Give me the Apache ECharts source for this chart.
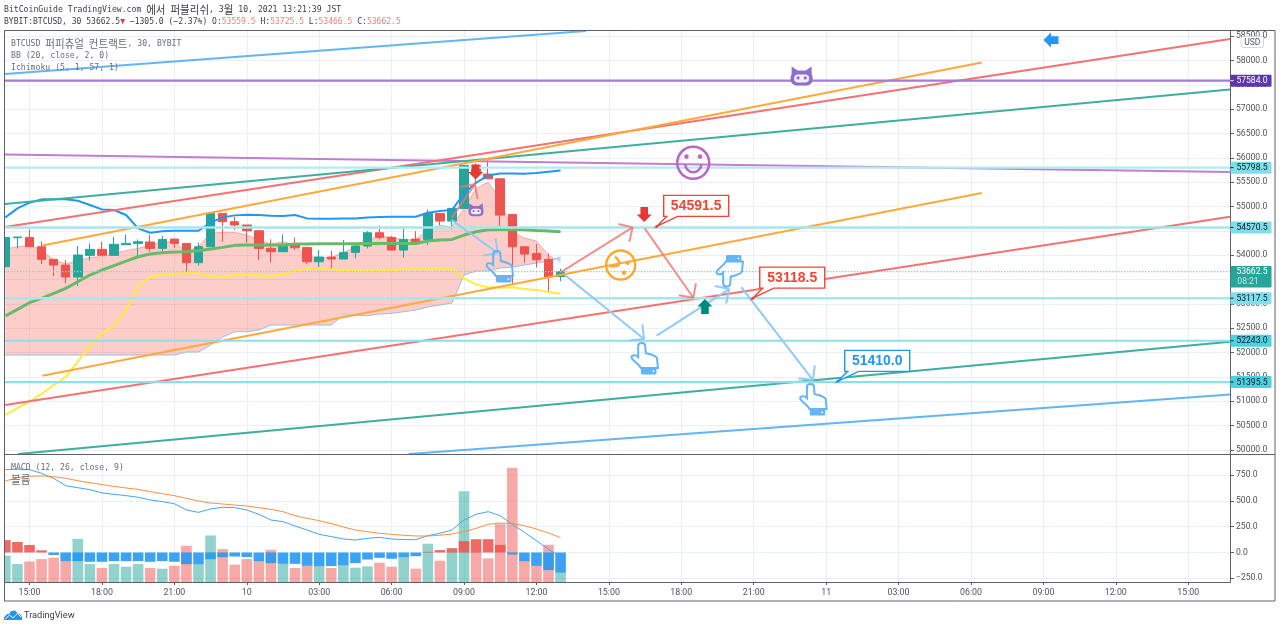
<!DOCTYPE html>
<html><head><meta charset="utf-8">
<style>html,body{margin:0;padding:0;background:#fff}#c{width:1280px;height:628px}</style>
<script src="https://cdn.jsdelivr.net/npm/echarts@6/dist/echarts.min.js"></script>
</head><body><div id="c"></div>
<script>
// ---- time axis (bar index: 0 = 14:00, one bar = 30 min)
const tickIndex = [2,8,14,20,26,32,38,44,50,56,62,68,74,80,86,92,98];
const tickLabels = ['15:00','18:00','21:00','10','03:00','06:00','09:00','12:00','15:00','18:00','21:00','11','03:00','06:00','09:00','12:00','15:00'];
// ---- candles
const opens = [53764,54360,54366,54175,53915,53798,53552,53997,54120,53997,54216,54243,54271,54140,54332,54243,53846,54175,54859,54688,54620,54503,54140,54072,54208,54160,53866,53962,53921,54058,54188,54461,54366,54105,54331,54325,54858,54701,54961,55844,55666,55570,54838,54174,54037,53914,53559.5];
const closes = [54366,54373,54175,53915,53798,53552,54004,54120,53997,54223,54243,54277,54140,54325,54243,53846,54175,54859,54688,54620,54503,54140,54072,54223,54153,53866,53962,53921,54058,54188,54461,54366,54105,54325,54277,54858,54701,54961,55844,55666,55570,54824,54174,54023,53907,53551,53662.5];
const lows = [53764,54140,54175,53819,53572,53422,53367,53887,53997,53997,54216,53983,54072,54072,54154,53661,53785,54175,54277,54517,54257,53901,53846,54072,54105,53818,53750,53715,53921,53934,54140,54325,54105,53948,54277,54208,54619,54530,54961,55475,55570,54598,53407,53845,53750,53229,53466.5];
const highs = [54366,54373,54531,54284,53915,53901,54188,54243,54277,54380,54428,54325,54414,54394,54332,54243,54257,54859,54859,54791,54620,54503,54325,54428,54366,54160,54105,54092,54311,54256,54496,54612,54393,54598,54496,54941,54858,54961,55844,55885,55954,55570,54838,54174,54229,54037,53725.5];
// ---- Bollinger bands
const bbUpper = [54777,54962,55078,55147,55147,55147,55119,55030,54941,54928,54825,54551,54462,54490,54503,54503,54503,54668,54777,54818,54832,54825,54811,54804,54824,54756,54749,54749,54756,54756,54776,54783,54790,54790,54790,54872,54906,54927,55269,55488,55639,55680,55680,55673,55687,55714,55741];
const bbBasis = [52751,52888,53025,53114,53216,53319,53456,53593,53696,53785,53880,53969,54024,54052,54065,54072,54093,54127,54161,54202,54209,54209,54209,54209,54229,54229,54235,54235,54235,54235,54242,54242,54242,54242,54242,54290,54311,54325,54414,54482,54523,54530,54530,54523,54509,54496,54482];
const bbLower = [50719,50862,50992,51150,51334,51499,51813,52135,52402,52552,52874,53367,53552,53593,53613,53634,53634,53572,53552,53593,53593,53587,53572,53613,53681,53730,53730,53710,53695,53695,53695,53695,53695,53710,53722,53722,53722,53722,53525,53402,53340,53332,53340,53305,53285,53244,53209];
// ---- Ichimoku cloud
const cloudUpper = [54127,54175,54195,54106,53901,53819,53880,53956,53969,54038,54093,54140,54209,54277,54277,54072,54175,54449,54469,54469,54414,54312,54229,54277,54208,53969,53955,53955,54051,54174,54311,54393,54366,54311,54325,54516,54612,54585,54961,55372,55502,55132,54475,54352,54290,54003,53838];
const cloudLower = [51950,51950,51950,51950,51950,51950,51950,51950,51950,51950,51950,51950,51950,51950,51950,52012,52012,52156,52320,52429,52429,52464,52566,52566,52566,52566,52566,52566,52772,52772,52757,52792,52806,52839,52874,52936,52977,53018,53593,53675,53675,53736,53757,53798,53839,53880,53962];
// ---- MACD pane
const macdLine = [803,809,803,767,719,648,628,609,577,564,551,535,509,493,473,412,389,422,438,435,412,370,315,299,257,218,176,154,131,121,137,147,131,125,125,163,186,218,315,370,396,357,273,196,115,31,-40];
const signalLine = [693,725,738,742,735,719,696,677,658,641,625,612,590,570,551,525,499,480,470,460,451,435,418,396,357,331,309,280,247,218,202,186,176,167,160,160,167,180,202,234,273,286,280,260,228,189,144];
const macdHist = [120,102,73,21,-24,-84,-84,-90,-90,-84,-84,-84,-90,-84,-90,-113,-113,-65,-45,-39,-45,-84,-103,-110,-110,-129,-132,-132,-123,-103,-68,-52,-61,-45,-36,6,23,42,110,129,129,74,-19,-84,-129,-171,-194];
const volumes = [79,54,62,69,73,64,130,54,42,54,46,54,42,40,49,109,55,140,99,52,69,64,97,55,42,49,49,42,52,43,47,58,46,76,40,115,64,90,273,90,71,174,344,64,50,112,31];
// ---- price levels
const levelPrices = [55798.5,54570.5,53117.5,52243,51395.5];
const purpleLevel = 57584;
const lastPrice = 53662.5;
const countdown = '08:21';
// ---- trend lines [bar, price, bar, price]
const blueTrendTop = [-0.03,57719,48.1,58602];
const blueTrendBottom = [33.4,49918,101.46,51139];
const purpleTrend = [-0.03,56066,101.46,55707];
const redTrendTop = [-0.03,54578,101.46,58438];
const redTrendBottom = [-0.03,50924,101.46,54790];
const tealTrendTop = [-0.03,55050,101.46,57401];
const tealTrendBottom = [1.04,49918,101.46,52223];
const orangeTrendTop = [3.06,54198,80.9,57959];
const orangeTrendBottom = [3.06,51525,80.9,55276];
// ---- arrows [from bar, from price, to bar, to price]
const redArrows = [[46.03,53654,51.97,54572],[52.97,54551,57,53127],[36.97,54763,38.9,55455]];
const blueArrows = [[36.97,54722,40.81,54044],[46.36,53593,52.91,52279],[53.96,52347,59.98,53305],[60.97,53346,66.91,51437]];
// ---- annotations [bar, price]
const handsUp = [[40.98,53757],[52.99,51868],[66.97,51026]];
const handsDown = [[60.03,53685]];
const downMarks = [[38.96,55707],[52.93,54835]];
const upMarks = [[57.96,52946]];
const leftMarks = [[86.63,58417]];
const catMarks = [[65.97,57672,1],[38.99,54927,0.68]];
const smileAt = [56.99,55898];
const faceAt = [50.98,53798];
const callouts = [[53.96,54591.5,'54591.5'],[61.92,53118.5,'53118.5'],[68.96,51410,'51410.0']];

const pairs = a => a.map((v,i)=>[i,v]);
const X_MIN=-0.03, X_MAX=101.46;
const priceTicks=[]; for(let p=50000;p<=58500;p+=500) priceTicks.push(p);
const FRAME='#5d606b', GRID='#e9f0f6', LABEL='#50535e';
const TV='Roboto', MONO="'DejaVu Sans Mono','Noto Sans CJK KR'";

function trend(a,color,w){return {type:'line',xAxisIndex:0,yAxisIndex:0,data:[[a[0],a[1]],[a[2],a[3]]],symbol:'none',silent:true,z:4,animation:false,lineStyle:{color,width:w||2}};}
function level(p,color,w){return {type:'line',xAxisIndex:0,yAxisIndex:0,data:[[X_MIN,p],[X_MAX,p]],symbol:'none',silent:true,z:4,animation:false,lineStyle:{color,width:w||2}};}
function band(v,color,w){return {type:'line',xAxisIndex:0,yAxisIndex:0,data:pairs(v),symbol:'none',silent:true,z:3,animation:false,lineStyle:{color,width:w}};}

function renderCloud(params,api){
  const up=cloudUpper.map((p,i)=>api.coord([i,p])), lo=cloudLower.map((p,i)=>api.coord([i,p]));
  const n=up.length, a=n-2, b=n-1;
  const d0=lo[a][1]-up[a][1], d1=lo[b][1]-up[b][1], t=d0/(d0-d1);
  const cross=[up[a][0]+(up[b][0]-up[a][0])*t, up[a][1]+(up[b][1]-up[a][1])*t];
  const pinkUp=up.slice(0,n-1).concat([cross]), pinkLo=lo.slice(0,n-1);
  return {type:'group',children:[
    {type:'polygon',shape:{points:pinkUp.concat(pinkLo.slice().reverse())},style:{fill:'rgba(248,60,50,0.26)',stroke:'none'}},
    {type:'polygon',shape:{points:[cross,up[b],lo[b]]},style:{fill:'#bbdefb',stroke:'none'}},
    {type:'polyline',shape:{points:pinkUp},style:{stroke:'#f7a9a3',fill:'none',lineWidth:1}},
    {type:'polyline',shape:{points:lo},style:{stroke:'#9dbde6',fill:'none',lineWidth:1}}
  ]};
}
function arrow(c,a,color){
  const p=c([a[0],a[1]]),q=c([a[2],a[3]]),ang=Math.atan2(p[1]-q[1],p[0]-q[0]),L=14.7,out=[];
  const l=(x1,y1,x2,y2)=>out.push({type:'line',shape:{x1,y1,x2,y2},style:{stroke:color,lineWidth:2,fill:'none'}});
  l(p[0],p[1],q[0],q[1]);
  [Math.PI/4,-Math.PI/4].forEach(d=>l(q[0],q[1],q[0]+L*Math.cos(ang+d),q[1]+L*Math.sin(ang+d)));
  return out;
}
const HAND='M-6.5 -13 C-6.5 -17 0.5 -17 0.5 -13 L1 -6 C5 -5 11 -4 12 -1 L13 9 L-4 9 C-5 6 -10 3 -13 -1 C-14 -4 -9 -5 -6.5 -2 Z';
function hand(c,a,flip){
  const p=c(a),col='#64b5f6';
  return {type:'group',x:p[0],y:p[1],scaleY:flip?-1:1,children:[
    {type:'path',shape:{pathData:HAND,x:-13.5,y:-16,width:26.5,height:25,layout:'cover'},style:{fill:'none',stroke:col,lineWidth:2}},
    {type:'rect',shape:{x:-4,y:9,width:15.5,height:6.5,r:1.5},style:{fill:col,stroke:'none'}},
    {type:'circle',shape:{cx:8.5,cy:12.2,r:0.9},style:{fill:'#fff',stroke:'none'}}
  ]};
}
function block(c,a,color,rot){
  const p=c(a);
  return {type:'polygon',x:p[0],y:p[1],rotation:rot,shape:{points:[[-3.8,-7.5],[3.8,-7.5],[3.8,0],[7.5,0],[0,7.5],[-7.5,0],[-3.8,0]]},style:{fill:color,stroke:'none'}};
}
function cat(c,a){
  const p=c(a),s=a[2],col='#8e6fc9',mk=(x,y)=>[x,y];
  return {type:'group',x:p[0],y:p[1],scaleX:s,scaleY:s,children:[
    {type:'polygon',shape:{points:[mk(-10,-2),mk(-10,-10),mk(-4,-6),mk(4,-6),mk(10,-10),mk(10,-2)]},style:{fill:col,stroke:'none'}},
    {type:'rect',shape:{x:-11,y:-5,width:22,height:14,r:6},style:{fill:col,stroke:'none'}},
    {type:'rect',shape:{x:-7.5,y:-2,width:15,height:8,r:4},style:{fill:'#f3edfb',stroke:'none'}},
    {type:'circle',shape:{cx:-3.6,cy:1.5,r:1.6},style:{fill:col,stroke:'none'}},
    {type:'circle',shape:{cx:3.6,cy:1.5,r:1.6},style:{fill:col,stroke:'none'}}
  ]};
}
function smiley(c){
  const p=c(smileAt),col='#ba68c8';
  return {type:'group',x:p[0],y:p[1],children:[
    {type:'circle',shape:{cx:0,cy:0,r:16},style:{fill:'none',stroke:col,lineWidth:2.6}},
    {type:'circle',shape:{cx:-6.8,cy:-6.2,r:2.3},style:{fill:col,stroke:'none'}},
    {type:'circle',shape:{cx:6.8,cy:-6.2,r:2.3},style:{fill:col,stroke:'none'}},
    {type:'arc',shape:{cx:0,cy:1.5,r:8,startAngle:0,endAngle:Math.PI,clockwise:true},style:{fill:'none',stroke:col,lineWidth:2.6}}
  ]};
}
function face(c){
  const p=c(faceAt),col='#ffa726';
  return {type:'group',x:p[0],y:p[1],children:[
    {type:'circle',shape:{cx:0,cy:0,r:14.5},style:{fill:'none',stroke:col,lineWidth:2.4}},
    {type:'circle',shape:{cx:7,cy:-2.3,r:2.2},style:{fill:col,stroke:'none'}},
    {type:'circle',shape:{cx:3.3,cy:7.7,r:2.2},style:{fill:col,stroke:'none'}},
    {type:'bezierCurve',shape:{x1:-5.7,y1:-8.3,cpx1:0,cpy1:-4,cpx2:1,cpy2:3,x2:-10.7,y2:1},style:{fill:'none',stroke:col,lineWidth:2.2}}
  ]};
}
function callout(c,a,color){
  const p=c([a[0],a[1]]),x=p[0]+7,y=p[1]-31,w=65,h=21;
  return {type:'group',children:[
    {type:'polygon',shape:{points:[[x,y],[x+w,y],[x+w,y+h],[x+14,y+h],[p[0],p[1]],[x+3,y+h],[x,y+h]]},style:{fill:'#fff',stroke:color,lineWidth:1.4}},
    {type:'circle',shape:{cx:p[0],cy:p[1],r:1.5},style:{fill:color,stroke:'none'}},
    {type:'text',style:{text:a[2],x:x+w/2,y:y+h/2+0.5,fill:color,font:'bold 14px "Liberation Sans"',align:'center',verticalAlign:'middle'}}
  ]};
}
function renderDrawings(params,api){
  const c=v=>api.coord(v),kids=[];
  redArrows.forEach(a=>kids.push(...arrow(c,a,'rgba(240,115,115,0.8)')));
  blueArrows.forEach(a=>kids.push(...arrow(c,a,'#90caf9')));
  handsUp.forEach(a=>kids.push(hand(c,a,false)));
  handsDown.forEach(a=>kids.push(hand(c,a,true)));
  downMarks.forEach(a=>kids.push(block(c,a,'#e53935',0)));
  upMarks.forEach(a=>kids.push(block(c,a,'#00897b',Math.PI)));
  leftMarks.forEach(a=>kids.push(block(c,a,'#2196f3',-Math.PI/2)));
  catMarks.forEach(a=>kids.push(cat(c,a)));
  kids.push(smiley(c),face(c));
  callouts.forEach((a,i)=>kids.push(callout(c,a,i<2?'#f44336':'#2196f3')));
  return {type:'group',children:kids};
}
function renderTags(params,api){
  const kids=[],X0=1230.5,W=41;
  const tag=(price,bg,fg)=>{
    const y=api.coord([X_MAX,price])[1];
    kids.push({type:'rect',shape:{x:X0,y:y-6,width:W,height:12,r:1},style:{fill:bg,stroke:'none'}});
    kids.push({type:'line',shape:{x1:X0,y1:y,x2:X0+3,y2:y},style:{stroke:fg,lineWidth:1}});
    kids.push({type:'text',style:{text:price.toFixed(1),x:X0+W/2+1,y:y+0.5,fill:fg,font:'8.6px '+TV,align:'center',verticalAlign:'middle'}});
  };
  tag(purpleLevel,'#5e35b1','#ffffff');
  tag(levelPrices[0],'#80deea','#131722');
  tag(levelPrices[1],'#80deea','#131722');
  tag(levelPrices[2],'#80deea','#131722');
  tag(levelPrices[3],'#4dd0e1','#131722');
  tag(levelPrices[4],'#4dd0e1','#131722');
  const y=api.coord([X_MAX,lastPrice])[1];
  kids.push({type:'rect',shape:{x:X0,y:y-5.6,width:W,height:21.4,r:1},style:{fill:'#26a69a',stroke:'none'}});
  kids.push({type:'text',style:{text:lastPrice.toFixed(1),x:X0+W/2+1,y:y+0.5,fill:'#fff',font:'8.6px '+TV,align:'center',verticalAlign:'middle'}});
  kids.push({type:'text',style:{text:countdown,x:X0+W/2-3,y:y+10.5,fill:'#bfe6e2',font:'8.6px '+TV,align:'center',verticalAlign:'middle'}});
  return {type:'group',children:kids};
}
const KO=/([\uac00-\ud7a3]+)/;
const richify=s=>s.split(KO).filter(Boolean).map(t=>KO.test(t)?'{k|'+t+'}':'{n|'+t+'}').join('');
const txt=(text,x,y,fill)=>({type:'text',x,y,scaleX:0.905,z:50,silent:true,style:{text:richify(text),verticalAlign:'middle',rich:{
  n:{fill,fontFamily:'DejaVu Sans Mono',fontSize:9},k:{fill,fontFamily:'Noto Sans CJK KR',fontSize:11.6}}}});
const monoStyle=fill=>({fill,fontFamily:'DejaVu Sans Mono',fontSize:9});
const line2={type:'text',x:4,y:22,scaleX:0.893,z:50,silent:true,style:{
  text:'{n|BYBIT:BTCUSD, 30 53662.5}{a|▼}{n| −1305.0 (−2.37%) O:}{r|53559.5}{n| H:}{r|53725.5}{n| L:}{r|53466.5}{n| C:}{r|53662.5}',
  verticalAlign:'middle',rich:{n:monoStyle('#3a3d46'),r:monoStyle('#f77c7c'),a:monoStyle('#f23645')}}};

const option={
  animation:false,backgroundColor:'#ffffff',
  grid:[{left:5,top:31,width:1225,height:423,containLabel:false},{left:5,top:455,width:1225,height:127,containLabel:false}],
  xAxis:[
    {type:'value',gridIndex:0,min:X_MIN,max:X_MAX,axisLabel:{show:false,customValues:tickIndex},axisTick:{show:false,customValues:tickIndex},axisLine:{show:false},splitLine:{show:true,lineStyle:{color:GRID,width:1}}},
    {type:'value',gridIndex:1,min:X_MIN,max:X_MAX,axisLine:{show:true,onZero:false,lineStyle:{color:FRAME}},axisTick:{show:true,length:3,customValues:tickIndex,lineStyle:{color:FRAME}},
     axisLabel:{show:true,customValues:tickIndex,color:LABEL,fontFamily:TV,fontSize:8.8,margin:6,formatter:v=>tickLabels[tickIndex.indexOf(Math.round(v))]||''},splitLine:{show:true,lineStyle:{color:GRID,width:1}}}
  ],
  yAxis:[
    {type:'value',gridIndex:0,position:'right',min:49918,max:58604,axisLine:{show:true,onZero:false,lineStyle:{color:FRAME}},axisTick:{show:true,length:4,customValues:priceTicks,lineStyle:{color:FRAME}},
     axisLabel:{show:true,customValues:priceTicks,color:LABEL,fontFamily:TV,fontSize:8.6,margin:6,formatter:v=>v.toFixed(1)},splitLine:{show:true,lineStyle:{color:GRID,width:1}}},
    {type:'value',gridIndex:1,position:'right',min:-286,max:945,axisLine:{show:true,onZero:false,lineStyle:{color:FRAME}},axisTick:{show:true,length:4,customValues:[-250,0,250,500,750],lineStyle:{color:FRAME}},
     axisLabel:{show:true,customValues:[-250,0,250,500,750],color:LABEL,fontFamily:TV,fontSize:8.6,margin:6,formatter:v=>(v<0?'−'+Math.abs(v):String(v))+'.0'},splitLine:{show:true,lineStyle:{color:GRID,width:1}}},
    {type:'value',gridIndex:1,min:0,max:382,show:false,splitLine:{show:false}}
  ],
  series:[
    {type:'custom',xAxisIndex:0,yAxisIndex:0,coordinateSystem:'cartesian2d',renderItem:renderCloud,data:[[0,52000]],encode:{x:0,y:1},z:1,silent:true,clip:true},
    {type:'candlestick',xAxisIndex:0,yAxisIndex:0,barWidth:9,z:2,silent:true,
      encode:{x:0,y:[1,2,3,4]},data:opens.map((o,i)=>[i,o,closes[i],lows[i],highs[i]]),
      itemStyle:{color:'#26a69a',color0:'#ef5350',borderColor:'#26a69a',borderColor0:'#ef5350',borderWidth:1}},
    band(bbUpper,'#2196f3',2),band(bbBasis,'#66bb6a',3),band(bbLower,'#ffeb3b',2),
    {type:'line',xAxisIndex:0,yAxisIndex:0,data:[[X_MIN,lastPrice],[X_MAX,lastPrice]],symbol:'none',silent:true,z:3,lineStyle:{color:'#8fcfc8',width:1.4,type:[1.4,1.6]}},
    trend(blueTrendTop,'#64b5f6'),trend(blueTrendBottom,'#64b5f6'),trend(purpleTrend,'#c27ed2'),
    trend(redTrendTop,'#f57272'),trend(redTrendBottom,'#f57272'),trend(tealTrendTop,'#3fae9f'),trend(tealTrendBottom,'#3fae9f'),
    trend(orangeTrendTop,'#ffa93d'),trend(orangeTrendBottom,'#ffa93d'),
    level(purpleLevel,'#a47bd6',2.4),
    level(levelPrices[0],'#b2ebf2',2.4),level(levelPrices[1],'#a6e6ee',2.4),level(levelPrices[2],'#a6e6ee',2.4),level(levelPrices[3],'#8ddfe9',2.2),level(levelPrices[4],'#8ddfe9',2.2),
    {type:'custom',xAxisIndex:0,yAxisIndex:0,coordinateSystem:'cartesian2d',renderItem:renderDrawings,data:[[0,52000]],encode:{x:0,y:1},z:5,silent:true},
    {type:'custom',xAxisIndex:0,yAxisIndex:0,coordinateSystem:'cartesian2d',renderItem:renderTags,data:[[0,52000]],encode:{x:0,y:1},z:6,silent:true},
    {type:'bar',xAxisIndex:1,yAxisIndex:2,barWidth:10.6,barGap:'-100%',z:2,silent:true,data:pairs(volumes),
      itemStyle:{opacity:0.5,color:p=>closes[p.dataIndex]>=opens[p.dataIndex]?'#26a69a':'#ef5350'}},
    {type:'bar',xAxisIndex:1,yAxisIndex:1,barWidth:10.6,barGap:'-100%',z:3,silent:true,data:pairs(macdHist),
      itemStyle:{opacity:0.88,color:p=>macdHist[p.dataIndex]>=0?'#ef5350':'#2196f3'}},
    {type:'line',xAxisIndex:1,yAxisIndex:1,data:pairs(macdLine),symbol:'none',silent:true,z:4,lineStyle:{color:'#42a5f5',width:1}},
    {type:'line',xAxisIndex:1,yAxisIndex:1,data:pairs(signalLine),symbol:'none',silent:true,z:4,lineStyle:{color:'#ff8f3f',width:1}}
  ],
  graphic:[
    {type:'rect',z:39,silent:true,shape:{x:0,y:30,width:4.5,height:572},style:{fill:'#ffffff',stroke:'none'}},
    {type:'rect',z:40,silent:true,shape:{x:4.5,y:30.5,width:1270.5,height:570.5},style:{fill:'none',stroke:FRAME,lineWidth:1}},
    {type:'line',z:40,silent:true,shape:{x1:4.5,y1:454.5,x2:1275,y2:454.5},style:{stroke:FRAME,lineWidth:1}},
    txt('BitCoinGuide TradingView.com 에서 퍼블리쉬, 3월 10, 2021 13:21:39 JST',4,10,'#3a3d46'),
    line2,
    txt('BTCUSD 퍼피츄얼 컨트랙트, 30, BYBIT',11,44,'#6a6d78'),
    txt('BB (20, close, 2, 0)',11,56,'#6a6d78'),
    txt('Ichimoku (5, 1, 57, 1)',11,68,'#6a6d78'),
    txt('MACD (12, 26, close, 9)',11,468,'#6a6d78'),
    txt('볼륨',11,480,'#6a6d78'),
    {type:'rect',z:45,silent:true,shape:{x:1241,y:36.5,width:22.5,height:11,r:2},style:{fill:'#fff',stroke:'#d6d8de',lineWidth:1}},
    {type:'text',z:46,silent:true,x:1252.2,y:42.5,style:{text:'USD',fill:'#50535e',font:'8.5px '+TV,align:'center',verticalAlign:'middle'}},
    {type:'polygon',z:46,silent:true,shape:{points:[[4,620],[4,617],[7,614],[9,614],[11,611],[15,610.5],[18,613.5],[20,614],[22,617],[22,620]]},style:{fill:'#2196f3',stroke:'none'}},
    {type:'polyline',z:47,silent:true,shape:{points:[[5,619],[9.5,615],[13,618],[17.5,613.5],[21,617]]},style:{fill:'none',stroke:'#fff',lineWidth:1}},
    {type:'text',z:46,silent:true,x:24,y:615.5,style:{text:'TradingView',fill:'#3a3d46',font:'9.2px '+TV,verticalAlign:'middle'}}
  ]
};
const chart=echarts.init(document.getElementById('c'),null,{renderer:'canvas',width:1280,height:628});
chart.setOption(option);
</script></body></html>
